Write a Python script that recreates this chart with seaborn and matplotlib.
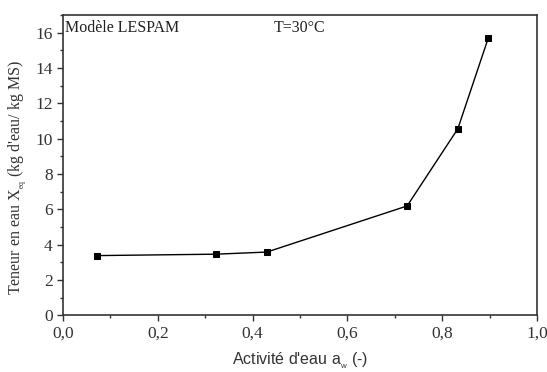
import matplotlib
matplotlib.use("Agg")
import matplotlib.pyplot as plt
from matplotlib.ticker import MultipleLocator, FuncFormatter
import seaborn as sns
import pandas as pd

aw = [0.072, 0.323, 0.430, 0.726, 0.833, 0.897]
xeq = [3.38, 3.46, 3.58, 6.19, 10.56, 15.68]

sns.set_theme(style="ticks")
plt.rcParams["font.family"] = ["Liberation Serif", "DejaVu Serif"]
plt.rcParams["mathtext.default"] = "regular"

df = pd.DataFrame({"aw": aw, "xeq": xeq})

fig = plt.figure(figsize=(5.47, 3.72), dpi=100)
ax = fig.add_axes([63 / 547, 1 - 315.3 / 372, 474 / 547, 300.3 / 372])

sns.lineplot(data=df, x="aw", y="xeq", ax=ax, color="black", lw=1.0,
             marker="s", markersize=4.6, markeredgecolor="black",
             markerfacecolor="black", sort=False)

ax.set_xlim(0, 1.0)
ax.set_ylim(0, 17)
ax.xaxis.set_major_locator(MultipleLocator(0.2))
ax.xaxis.set_minor_locator(MultipleLocator(0.1))
ax.yaxis.set_major_locator(MultipleLocator(2))
ax.yaxis.set_minor_locator(MultipleLocator(1))
ax.xaxis.set_major_formatter(FuncFormatter(lambda v, p: f"{v:.1f}".replace(".", ",")))
ax.yaxis.set_major_formatter(FuncFormatter(lambda v, p: f"{v:.0f}"))
ax.tick_params(axis="both", which="major", direction="out", length=4, width=1,
               labelsize=12.5, colors="#333333", labelcolor="#333333")
ax.tick_params(axis="both", which="minor", direction="out", length=2.5, width=1,
               colors="#333333")
for s in ax.spines.values():
    s.set_color("#333333")
    s.set_linewidth(1.2)

ax.set_xlabel("Activité d'eau a$_{_w}$ (-)", family="Liberation Sans",
              fontsize=11.5, color="#333333", labelpad=6)
ax.set_ylabel("Teneur en eau X$_{_{eq}}$ (kg d'eau/ kg MS)", fontsize=11.5,
              color="#333333", va="center")
ax.yaxis.set_label_coords(-0.095, 0.46)

ax.text(0.004, 0.985, "Modèle LESPAM", transform=ax.transAxes, fontsize=11.5,
        ha="left", va="top", color="#222222")
ax.text(0.445, 0.985, "T=30°C", transform=ax.transAxes, fontsize=11.5,
        ha="left", va="top", color="#222222")

fig.savefig("out.png", dpi=100)
